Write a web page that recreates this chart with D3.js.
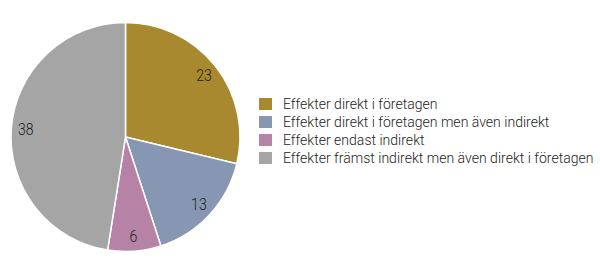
<!DOCTYPE html>
<html>
<head>
<meta charset="UTF-8">
<script src="https://d3js.org/d3.v7.min.js"></script>
<style>
  body { margin: 0; background: #fff; }
  svg text { font-family: "Liberation Sans Narrow", "Roboto", sans-serif; font-weight: 300; fill: #222; }
</style>
</head>
<body>
<svg id="chart" width="600" height="259"></svg>
<script>
// chart data
var categories = [
    "Effekter direkt i företagen",
    "Effekter direkt i företagen men även indirekt",
    "Effekter endast indirekt",
    "Effekter främst indirekt men även direkt i företagen"
];
var values = [23, 13, 6, 38];
var colors = ["#A8892F", "#8796B3", "#B683A6", "#A5A5A5"];

var svg = d3.select("#chart");
var cx = 125.5, cy = 137, radius = 114.5;

var pie = d3.pie().sort(null).value(function(d){ return d; });
var arc = d3.arc().innerRadius(0).outerRadius(radius);
var labelArc = d3.arc().innerRadius(100).outerRadius(100);

var g = svg.append("g").attr("transform", "translate(" + cx + "," + cy + ")");

g.selectAll("path")
    .data(pie(values))
    .enter()
    .append("path")
    .attr("d", arc)
    .attr("fill", function(d,i){ return colors[i]; })
    .attr("stroke", "#fff")
    .attr("stroke-width", 1.5);

g.selectAll("text")
    .data(pie(values))
    .enter()
    .append("text")
    .attr("transform", function(d){
        var c = labelArc.centroid(d);
        return "translate(" + c + ") scale(0.88,1)";
    })
    .attr("text-anchor", "middle")
    .attr("dy", "0.35em")
    .style("font-size", "16px")
    .text(function(d){ return d.data; });

// legend
var legend = svg.append("g").attr("transform", "translate(259,98)");
var rows = legend.selectAll("g")
    .data(categories)
    .enter()
    .append("g")
    .attr("transform", function(d,i){ return "translate(0," + (i * 18) + ")"; });

rows.append("rect")
    .attr("width", 13)
    .attr("height", 12)
    .attr("fill", function(d,i){ return colors[i]; });

var labels = rows.append("text")
    .attr("x", 0)
    .attr("y", 6)
    .attr("dy", "0.35em")
    .style("font-size", "15px")
    .text(function(d){ return d; });

// squeeze the legend text so the longest line fits the reference width
var longest = d3.max(labels.nodes(), function(n){ return n.getComputedTextLength(); });
var sx = 311 / longest;
labels.attr("transform", "translate(24,0) scale(" + sx + ",1)");
</script>
</body>
</html>
